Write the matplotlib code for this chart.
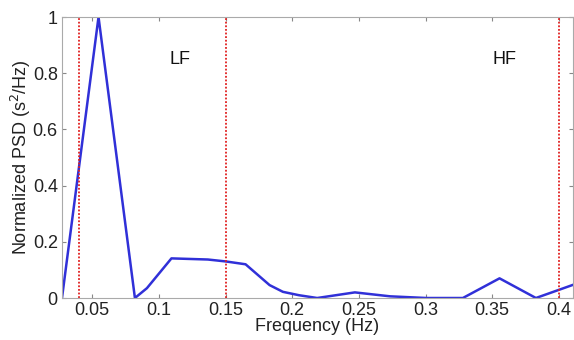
import matplotlib
matplotlib.use("Agg")
import matplotlib.pyplot as plt

freq = [0.0273, 0.0547, 0.0820, 0.0910, 0.1094, 0.1367, 0.1504, 0.1650, 0.1830,
        0.1930, 0.2050, 0.2187, 0.2470, 0.2734, 0.3008, 0.3280, 0.3555, 0.3828, 0.4101]
psd = [0.0, 1.0, 0.0, 0.035, 0.141, 0.137, 0.13, 0.12, 0.046,
       0.022, 0.01, 0.0, 0.02, 0.006, 0.0, 0.0, 0.07, 0.0, 0.046]
band_edges = [0.04, 0.15, 0.4]
band_labels = ["LF", "HF"]
band_label_x = [0.116, 0.359]
xticks = [0.05, 0.1, 0.15, 0.2, 0.25, 0.3, 0.35, 0.4]
xticklabels = ["0.05", "0.1", "0.15", "0.2", "0.25", "0.3", "0.35", "0.4"]
yticks = [0, 0.2, 0.4, 0.6, 0.8, 1]
yticklabels = ["0", "0.2", "0.4", "0.6", "0.8", "1"]

plt.rcParams['font.family'] = ['Liberation Sans', 'DejaVu Sans']

fig = plt.figure(figsize=(5.74, 3.4), dpi=100)
ax = fig.add_axes([0.108, 0.1235, 0.89, 0.8265])

ax.plot(freq, psd, color='#3030d8', linewidth=1.8)
for e in band_edges:
    ax.axvline(e, color='#e02020', linestyle=(0, (1, 1)), linewidth=1.3)
for lab, x in zip(band_labels, band_label_x):
    ax.text(x, 0.85, lab, fontsize=13, ha='center', va='center', color='#111111')

ax.set_xlim(0.0273, 0.4105)
ax.set_ylim(0, 1)
ax.set_xticks(xticks)
ax.set_xticklabels(xticklabels)
ax.set_yticks(yticks)
ax.set_yticklabels(yticklabels)
ax.tick_params(direction='in', top=True, right=True, labelsize=13, length=3,
               color='#888888', pad=3, labelcolor='#222222')
for s in ax.spines.values():
    s.set_color('#aaaaaa')
    s.set_linewidth(0.8)
ax.set_xlabel("Frequency (Hz)", fontsize=13, labelpad=-1, color='#222222')
ax.set_ylabel("Normalized PSD (s$^2$/Hz)", fontsize=13, labelpad=0, color='#222222')

fig.savefig("out.png", dpi=100)
